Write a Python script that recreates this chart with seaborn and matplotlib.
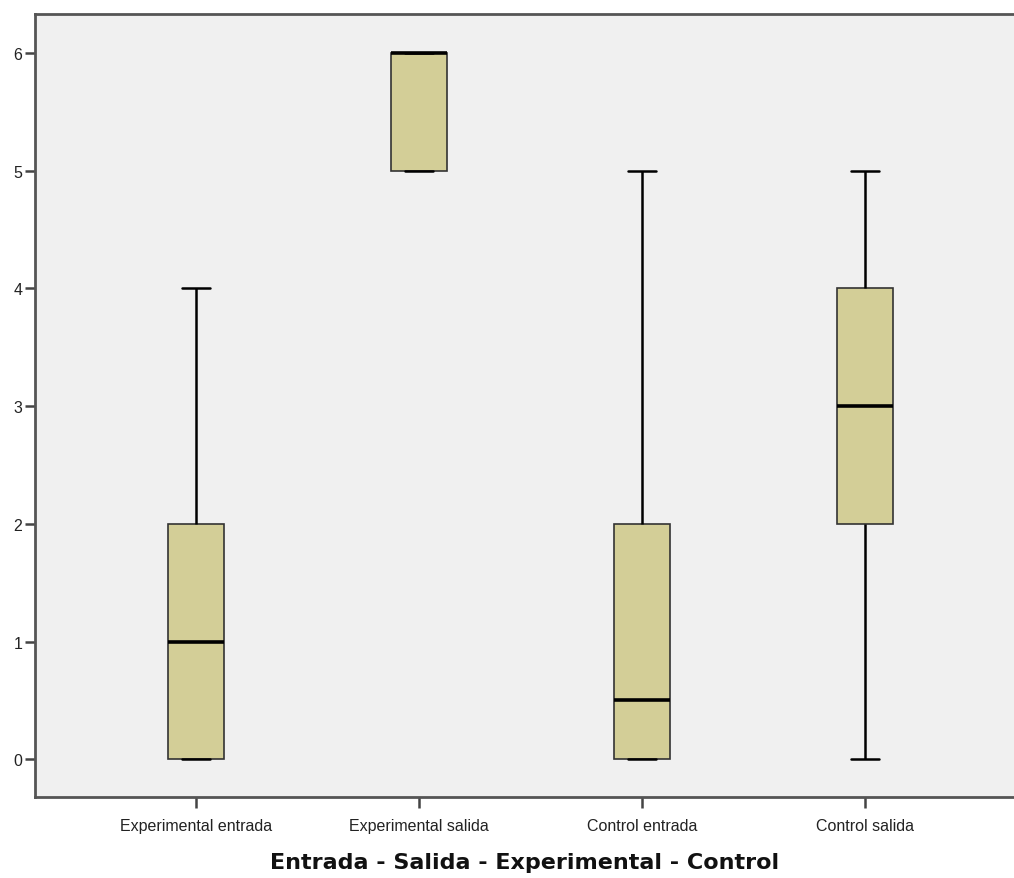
import matplotlib
matplotlib.use("Agg")
import matplotlib.pyplot as plt
import seaborn as sns
import pandas as pd

# Five-number summaries: min, Q1, median, Q3, max
categories = ["Experimental entrada", "Experimental salida", "Control entrada", "Control salida"]
exp_entrada = [0, 0, 1, 2, 4]
exp_salida = [5, 5, 6, 6, 6]
ctrl_entrada = [0, 0, 0.5, 2, 5]
ctrl_salida = [0, 2, 3, 4, 5]
y_ticks = [0, 1, 2, 3, 4, 5, 6]
x_title = "Entrada - Salida - Experimental - Control"

rows = []
for cat, vals in zip(categories, [exp_entrada, exp_salida, ctrl_entrada, ctrl_salida]):
    for v in vals:
        rows.append({"grupo": cat, "valor": v})
df = pd.DataFrame(rows)

sns.set_style("ticks")
plt.rcParams["font.family"] = ["Liberation Sans", "DejaVu Sans"]

fig = plt.figure(figsize=(10.14, 8.79), dpi=100)
ax = fig.add_axes([0.0345, 0.0922, 0.9655, 0.8908])
ax.set_facecolor("#F0F0F0")

sns.boxplot(data=df, x="grupo", y="valor", order=categories, ax=ax,
            whis=(0, 100), width=0.25, color="#D3CE97", saturation=1,
            linecolor="#222222", linewidth=1.2,
            medianprops=dict(color="black", linewidth=2.6),
            whiskerprops=dict(color="black", linewidth=1.8),
            capprops=dict(color="black", linewidth=1.8),
            boxprops=dict(edgecolor="#333333", linewidth=1.2))

ax.set_xlim(-0.722, 3.67)
ax.set_ylim(-0.32, 6.33)
ax.set_yticks(y_ticks)
ax.set_yticklabels([str(t) for t in y_ticks], fontsize=11.5, color="#222222")
ax.set_xticks(range(len(categories)))
ax.set_xticklabels(categories, fontsize=11.5, color="#222222")
ax.set_ylabel("")
ax.set_xlabel(x_title, fontsize=16, fontweight="bold", color="#111111",
              labelpad=14, family=["DejaVu Sans"])
ax.tick_params(axis="y", length=7, width=1.8, color="#444444", pad=2)
ax.tick_params(axis="x", length=8, width=1.8, color="#444444", pad=7)

for side in ["left", "top", "bottom"]:
    ax.spines[side].set_color("#555555")
    ax.spines[side].set_linewidth(2)
ax.spines["right"].set_visible(False)

fig.savefig("out.png", dpi=100)
